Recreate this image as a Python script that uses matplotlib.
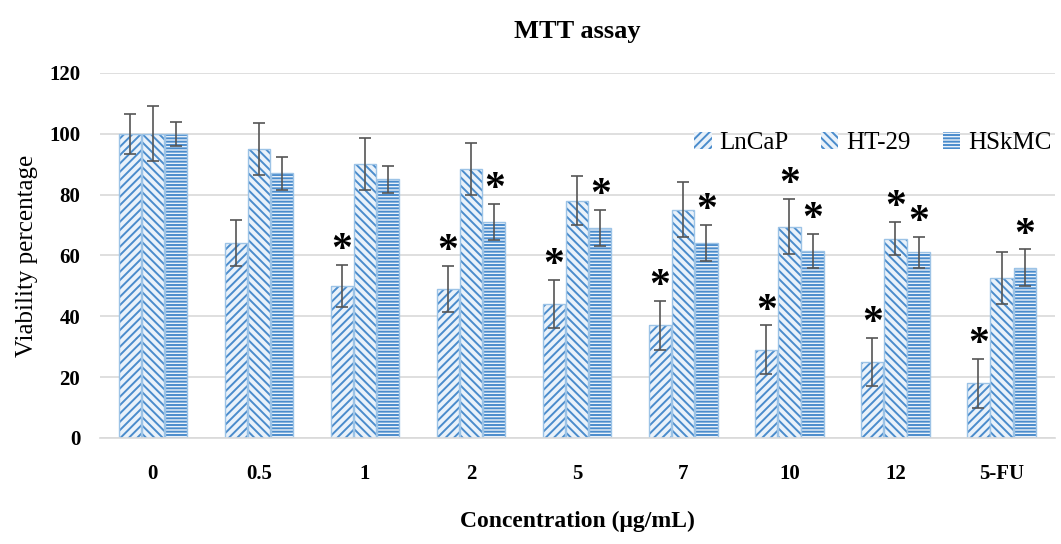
import numpy as np
import matplotlib.pyplot as plt

plt.rcParams['font.family'] = ['Liberation Serif', 'DejaVu Serif']
plt.rcParams['hatch.linewidth'] = 1.4

categories = ["0", "0.5", "1", "2", "5", "7", "10", "12", "5-FU"]
series = ["LnCaP", "HT-29", "HSkMC"]

lncap = [100, 64, 50, 49, 44, 37, 29, 25, 18]
lncap_err = [6.5, 7.5, 7, 7.5, 8, 8, 8, 8, 8]
ht29 = [100, 95, 90, 88.5, 78, 75, 69.5, 65.5, 52.5]
ht29_err = [9, 8.5, 8.5, 8.5, 8, 9, 9, 5.5, 8.5]
hskmc = [100, 87, 85, 71, 69, 64, 61.5, 61, 56]
hskmc_err = [4, 5.5, 4.5, 6, 6, 6, 5.5, 5, 6]

# significance marks (True = asterisk above the bar)
lncap_sig = [False, False, True, True, True, True, True, True, True]
ht29_sig = [False, False, False, False, False, False, True, True, False]
hskmc_sig = [False, False, False, True, True, True, True, True, True]

values = [lncap, ht29, hskmc]
errors = [lncap_err, ht29_err, hskmc_err]
sigs = [lncap_sig, ht29_sig, hskmc_sig]
hatches = ["////", "\\\\\\\\", "-----"]

fig = plt.figure(figsize=(10.61, 5.44), dpi=100)
ax = fig.add_axes([0.094, 0.195, 0.9, 0.671])

x = np.arange(len(categories))
w = 0.21
step = 0.218
for i, name in enumerate(series):
    pos = x + (i - 1) * step
    # hatch takes the edge colour, so draw the hatch and the outline separately
    ax.bar(pos, values[i], width=w, color="#eaf2fa", edgecolor="#4a8ccc",
           hatch=hatches[i], linewidth=0, zorder=2)
    ax.bar(pos, values[i], width=w, fill=False, edgecolor="#9cc3e6",
           linewidth=1.0, zorder=2)
    ax.bar([np.nan], [np.nan], color="#eaf2fa", edgecolor="#4a8ccc",
           hatch=hatches[i], linewidth=0, label=name)
    ax.errorbar(pos, values[i], yerr=errors[i], fmt="none", ecolor="#555555",
                elinewidth=1.2, capsize=4, capthick=1.2, zorder=3)
    for j in range(len(categories)):
        if sigs[i][j]:
            ax.text(pos[j], values[i][j] + errors[i][j] + 6, "*", ha="center",
                    va="center_baseline", fontsize=30, fontweight="bold")

ax.set_xlim(-0.5, 8.5)
ax.set_ylim(0, 120)
ax.set_yticks(np.arange(0, 121, 20))
ax.set_xticks(x)
ax.set_xticklabels(categories)
ax.yaxis.grid(True, color="#d9d9d9", linewidth=1.2, zorder=0)
ax.set_axisbelow(True)
for s in ["top", "right", "left"]:
    ax.spines[s].set_visible(False)
ax.spines["bottom"].set_color("#d9d9d9")
ax.spines["bottom"].set_linewidth(1.2)
ax.tick_params(length=0, labelsize=15)
for lab in ax.get_xticklabels() + ax.get_yticklabels():
    lab.set_fontweight("bold")
ax.tick_params(axis="x", pad=19)
ax.tick_params(axis="y", pad=14)

ax.set_title("MTT assay", fontsize=19, fontweight="bold", pad=25)
ax.set_ylabel("Viability percentage", fontsize=18, labelpad=8)
ax.set_xlabel("Concentration (\u03bcg/mL)", fontsize=17, fontweight="bold", labelpad=19)

ax.legend(loc="upper right", bbox_to_anchor=(1.02, 0.9), ncol=3, frameon=False,
          fontsize=18, handlelength=0.7, handleheight=0.7, handletextpad=0.3,
          columnspacing=1.3)

fig.savefig("out.png", dpi=100)
